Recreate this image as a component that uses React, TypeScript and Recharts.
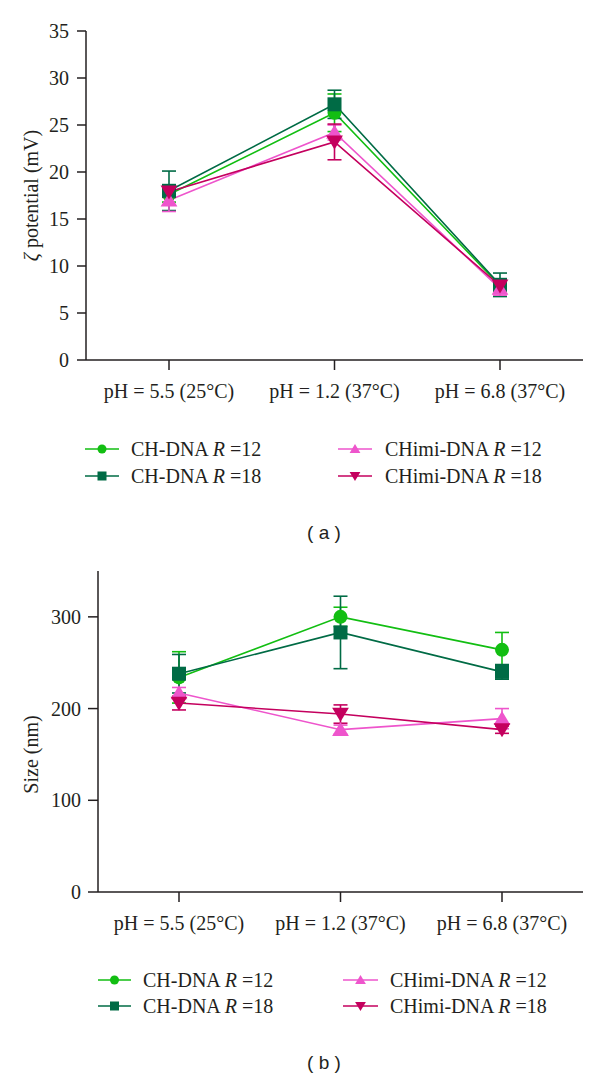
import React from 'react';
import { ComposedChart, Line, XAxis, YAxis, ErrorBar, Legend } from 'recharts';

// ---------- data ----------
const categories = ['pH = 5.5 (25°C)', 'pH = 1.2 (37°C)', 'pH = 6.8 (37°C)'];
const seriesKeys = ['ch12', 'ch18', 'chimi12', 'chimi18'];
const seriesBase = ['CH-DNA', 'CH-DNA', 'CHimi-DNA', 'CHimi-DNA'];
const seriesR = ['12', '18', '12', '18'];
const seriesColors = ['#12BE12', '#006B45', '#EE55CC', '#C4005E'];
const seriesShapes = ['circle', 'square', 'triangleUp', 'triangleDown'];

// (a) zeta potential (mV)
const zetaCh12 = [17.6, 26.3, 7.9];
const zetaCh12Err = [0.8, 2.0, 0.6];
const zetaCh18 = [18.0, 27.2, 8.0];
const zetaCh18Err = [2.1, 1.5, 1.25];
const zetaChimi12 = [17.0, 24.2, 7.6];
const zetaChimi12Err = [1.2, 0.8, 0.7];
const zetaChimi18 = [17.9, 23.2, 7.9];
const zetaChimi18Err = [0.6, 1.9, 0.5];
const zetaTicks = [0, 5, 10, 15, 20, 25, 30, 35];

// (b) size (nm)
const sizeCh12 = [234, 300, 264];
const sizeCh12Err = [28, 10.5, 19];
const sizeCh18 = [238, 283, 240];
const sizeCh18Err = [21, 39.5, 8];
const sizeChimi12 = [217, 177, 189];
const sizeChimi12Err = [6, 5, 11];
const sizeChimi18 = [206, 194, 177];
const sizeChimi18Err = [7.5, 10, 4];
const sizeTicks = [0, 100, 200, 300];

const build = (vals: number[][], errs: number[][]) =>
  categories.map((c, i) => {
    const row: any = { cat: c };
    seriesKeys.forEach((k, s) => {
      row[k] = vals[s][i];
      row[k + 'Err'] = errs[s][i];
    });
    return row;
  });

const zetaData = build(
  [zetaCh12, zetaCh18, zetaChimi12, zetaChimi18],
  [zetaCh12Err, zetaCh18Err, zetaChimi12Err, zetaChimi18Err]
);
const sizeData = build(
  [sizeCh12, sizeCh18, sizeChimi12, sizeChimi18],
  [sizeCh12Err, sizeCh18Err, sizeChimi12Err, sizeChimi18Err]
);

// ---------- styles ----------
const SERIF = '"Liberation Serif", "Times New Roman", serif';
const SANS = '"Liberation Sans", Arial, sans-serif';
const INK = '#231f20';

const Marker = ({ shape, cx, cy, color, s }: any) => {
  if (cx == null || cy == null) return null;
  if (shape === 'circle') return <circle cx={cx} cy={cy} r={s / 2} fill={color} />;
  if (shape === 'square')
    return <rect x={cx - s / 2} y={cy - s / 2} width={s} height={s} fill={color} />;
  const w = s * 0.6;
  const h = s * 0.5;
  if (shape === 'triangleUp')
    return (
      <polygon
        points={`${cx},${cy - h * 1.1} ${cx - w},${cy + h * 0.9} ${cx + w},${cy + h * 0.9}`}
        fill={color}
      />
    );
  return (
    <polygon
      points={`${cx - w},${cy - h * 0.9} ${cx + w},${cy - h * 0.9} ${cx},${cy + h * 1.1}`}
      fill={color}
    />
  );
};

const LegendBox = ({ cols, rows }: any) => (
  <svg width={600} height={70} style={{ display: 'block' }}>
    {seriesKeys.map((k, i) => {
      const col = cols[Math.floor(i / 2)];
      const y = rows[i % 2];
      const mid = (col.x1 + col.x2) / 2;
      return (
        <g key={k}>
          <line x1={col.x1} x2={col.x2} y1={y} y2={y} stroke={seriesColors[i]} strokeWidth={1.6} />
          <Marker shape={seriesShapes[i]} cx={mid} cy={y} color={seriesColors[i]} s={9} />
          <text x={col.tx} y={y} dy="0.35em" fontFamily={SERIF} fontSize={20} fill={INK}>
            {seriesBase[i]} <tspan fontStyle="italic">R</tspan> ={seriesR[i]}
          </text>
        </g>
      );
    })}
  </svg>
);

const YLabel = ({ viewBox, shift, children }: any) => {
  const cx = 31;
  const cy = viewBox.y + viewBox.height / 2 + shift;
  return (
    <text
      x={cx}
      y={cy}
      transform={`rotate(-90 ${cx} ${cy})`}
      textAnchor="middle"
      dominantBaseline="central"
      fontFamily={SERIF}
      fontSize={20}
      fill={INK}
    >
      {children}
    </text>
  );
};

const Panel = ({ data, ticks, domain, yWidth, height, xHeight, xPad, ySize, yMargin, yLabel, shift, legend }: any) => (
  <ComposedChart
    width={600}
    height={height}
    data={data}
    margin={{ top: 31, right: 17, left: 0, bottom: 0 }}
  >
    <XAxis
      dataKey="cat"
      interval={0}
      height={xHeight}
      padding={{ left: xPad, right: xPad }}
      tickSize={10}
      tickMargin={14}
      axisLine={{ stroke: INK, strokeWidth: 1.5 }}
      tickLine={{ stroke: INK, strokeWidth: 1.5 }}
      tick={{ fontFamily: SERIF, fontSize: 20, fill: INK }}
    />
    <YAxis
      width={yWidth}
      domain={domain}
      ticks={ticks}
      type="number"
      allowDataOverflow
      tickSize={ySize}
      tickMargin={yMargin}
      axisLine={{ stroke: INK, strokeWidth: 1.5 }}
      tickLine={{ stroke: INK, strokeWidth: 1.5 }}
      tick={{ fontFamily: SERIF, fontSize: 20, fill: INK }}
      label={{ content: (p: any) => <YLabel viewBox={p.viewBox} shift={shift}>{yLabel}</YLabel> }}
    />
    {seriesKeys.map((k, i) => (
      <Line
        key={k}
        dataKey={k}
        type="linear"
        stroke={seriesColors[i]}
        strokeWidth={1.6}
        isAnimationActive={false}
        activeDot={false}
        dot={(p: any) => (
          <Marker key={`${k}-${p.index}`} shape={seriesShapes[i]} cx={p.cx} cy={p.cy} color={seriesColors[i]} s={14} />
        )}
      >
        <ErrorBar dataKey={k + 'Err'} width={7} strokeWidth={1.6} stroke={seriesColors[i]} direction="y" />
      </Line>
    ))}
    <Legend
      layout="horizontal"
      verticalAlign="middle"
      align="center"
      wrapperStyle={{ position: 'absolute', top: legend.top, left: 0, width: 600, height: 70 }}
      content={() => <LegendBox cols={legend.cols} rows={legend.rows} />}
    />
  </ComposedChart>
);

export default function App() {
  return (
    <div style={{ position: 'absolute', left: 0, top: 0, width: 600, height: 1079, background: '#fff' }}>
      <div style={{ position: 'absolute', left: 0, top: 0 }}>
        <Panel
          data={zetaData}
          ticks={zetaTicks}
          domain={[0, 35]}
          yWidth={86}
          height={540}
          xHeight={180}
          xPad={83}
          ySize={9}
          yMargin={8}
          shift={0}
          yLabel={<><tspan fontStyle="italic">ζ</tspan> potential (mV)</>}
          legend={{
            top: 430,
            rows: [19, 46],
            cols: [
              { x1: 85, x2: 119, tx: 131 },
              { x1: 338, x2: 372, tx: 385 },
            ],
          }}
        />
      </div>
      <div style={{ position: 'absolute', left: 0, top: 523, width: 600, textAlign: 'center', fontFamily: SANS, fontSize: 19, color: INK, lineHeight: '20px', paddingLeft: 48, boxSizing: 'border-box' }}>
        ( a )
      </div>
      <div style={{ position: 'absolute', left: 0, top: 540 }}>
        <Panel
          data={sizeData}
          ticks={sizeTicks}
          domain={[0, 350]}
          yWidth={98}
          height={539}
          xHeight={187}
          xPad={81}
          ySize={10}
          yMargin={7}
          shift={23}
          yLabel="Size (nm)"
          legend={{
            top: 420,
            rows: [20, 46],
            cols: [
              { x1: 98, x2: 131, tx: 143 },
              { x1: 343, x2: 378, tx: 390 },
            ],
          }}
        />
      </div>
      <div style={{ position: 'absolute', left: 0, top: 1053, width: 600, textAlign: 'center', fontFamily: SANS, fontSize: 19, color: INK, lineHeight: '20px', paddingLeft: 48, boxSizing: 'border-box' }}>
        ( b )
      </div>
    </div>
  );
}
